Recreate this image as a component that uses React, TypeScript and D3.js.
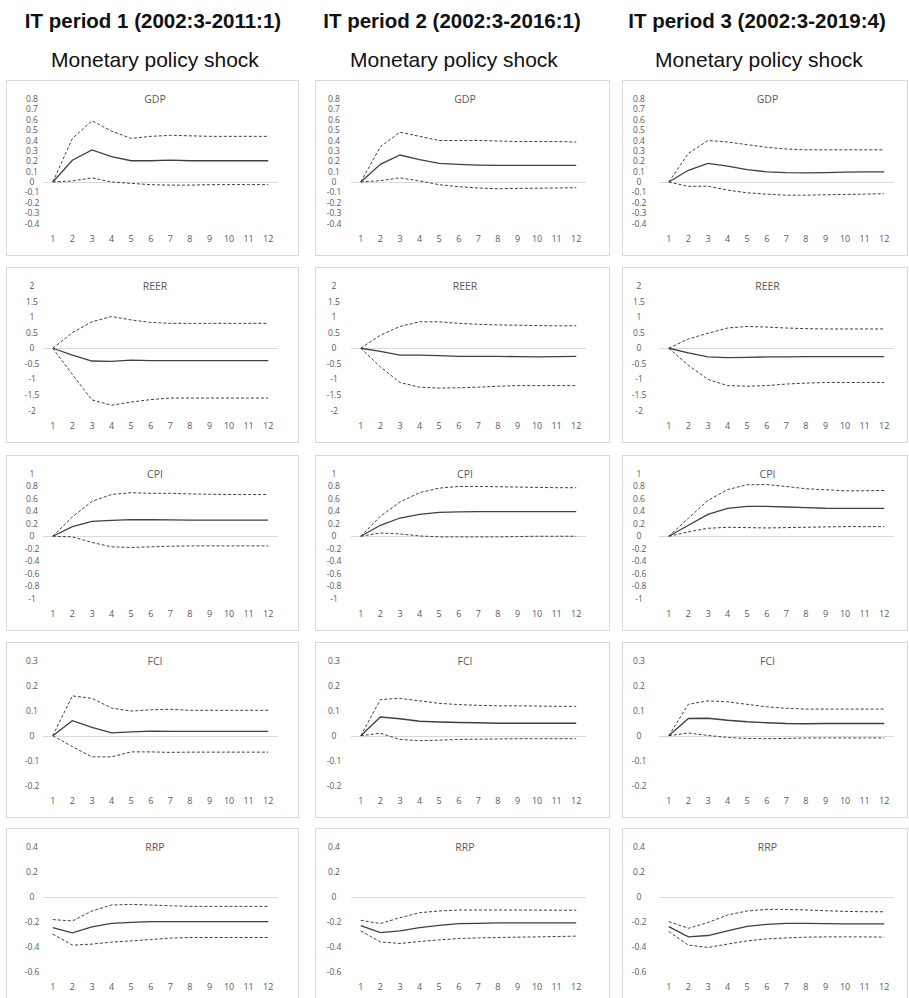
import React from "react";
import * as d3 from "d3";

// Column headers
const periodTitles = [
  "IT period 1 (2002:3-2011:1)",
  "IT period 2 (2002:3-2016:1)",
  "IT period 3 (2002:3-2019:4)",
];
const shockTitle = "Monetary policy shock";

// Horizon (quarters) shown on every x axis
const horizons = [1, 2, 3, 4, 5, 6, 7, 8, 9, 10, 11, 12];

// Vertical axis tick values for each response variable
const gdpTicks = [0.8, 0.7, 0.6, 0.5, 0.4, 0.3, 0.2, 0.1, 0, -0.1, -0.2, -0.3, -0.4];
const reerTicks = [2, 1.5, 1, 0.5, 0, -0.5, -1, -1.5, -2];
const cpiTicks = [1, 0.8, 0.6, 0.4, 0.2, 0, -0.2, -0.4, -0.6, -0.8, -1];
const fciTicks = [0.3, 0.2, 0.1, 0, -0.1, -0.2];
const rrpTicks = [0.4, 0.2, 0, -0.2, -0.4, -0.6];

// Impulse responses, one row per IT period
const gdpResponse = [
  [0, 0.21, 0.31, 0.245, 0.205, 0.205, 0.21, 0.205, 0.205, 0.205, 0.205, 0.205],
  [0, 0.17, 0.26, 0.215, 0.18, 0.17, 0.163, 0.16, 0.16, 0.16, 0.16, 0.16],
  [0, 0.113, 0.18, 0.152, 0.12, 0.098, 0.09, 0.088, 0.09, 0.095, 0.097, 0.097],
];
const gdpUpper = [
  [0, 0.42, 0.59, 0.49, 0.42, 0.44, 0.45, 0.445, 0.44, 0.44, 0.44, 0.44],
  [0, 0.34, 0.48, 0.44, 0.4, 0.4, 0.4, 0.395, 0.39, 0.39, 0.39, 0.385],
  [0, 0.276, 0.4, 0.386, 0.36, 0.334, 0.318, 0.31, 0.31, 0.31, 0.31, 0.31],
];
const gdpLower = [
  [0, 0.01, 0.04, 0, -0.013, -0.026, -0.03, -0.03, -0.026, -0.025, -0.025, -0.025],
  [0, 0.013, 0.04, 0.01, -0.026, -0.045, -0.058, -0.065, -0.062, -0.06, -0.058, -0.055],
  [0, -0.042, -0.04, -0.078, -0.104, -0.117, -0.127, -0.127, -0.123, -0.12, -0.117, -0.113],
];

const reerResponse = [
  [0, -0.22, -0.41, -0.42, -0.38, -0.4, -0.4, -0.4, -0.4, -0.4, -0.4, -0.4],
  [0, -0.1, -0.22, -0.22, -0.24, -0.26, -0.26, -0.26, -0.27, -0.28, -0.27, -0.26],
  [0, -0.15, -0.28, -0.3, -0.29, -0.28, -0.28, -0.27, -0.27, -0.27, -0.27, -0.27],
];
const reerUpper = [
  [0, 0.5, 0.85, 1.02, 0.91, 0.83, 0.8, 0.8, 0.8, 0.8, 0.8, 0.8],
  [0, 0.42, 0.7, 0.85, 0.85, 0.8, 0.77, 0.75, 0.74, 0.73, 0.72, 0.72],
  [0, 0.3, 0.48, 0.65, 0.7, 0.68, 0.65, 0.63, 0.62, 0.62, 0.62, 0.62],
];
const reerLower = [
  [0, -0.84, -1.66, -1.83, -1.73, -1.65, -1.6, -1.6, -1.6, -1.6, -1.6, -1.6],
  [0, -0.6, -1.1, -1.25, -1.28, -1.27, -1.25, -1.22, -1.2, -1.2, -1.2, -1.2],
  [0, -0.55, -1.0, -1.2, -1.22, -1.2, -1.15, -1.12, -1.1, -1.1, -1.1, -1.1],
];

const cpiResponse = [
  [0, 0.155, 0.24, 0.256, 0.267, 0.265, 0.262, 0.26, 0.26, 0.26, 0.26, 0.26],
  [0, 0.176, 0.293, 0.35, 0.384, 0.392, 0.395, 0.395, 0.395, 0.395, 0.395, 0.395],
  [0, 0.176, 0.352, 0.448, 0.48, 0.48, 0.47, 0.46, 0.45, 0.448, 0.448, 0.448],
];
const cpiUpper = [
  [0, 0.31, 0.56, 0.67, 0.7, 0.69, 0.69, 0.68, 0.675, 0.67, 0.67, 0.67],
  [0, 0.32, 0.55, 0.7, 0.773, 0.8, 0.8, 0.795, 0.79, 0.785, 0.78, 0.78],
  [0, 0.29, 0.576, 0.75, 0.827, 0.83, 0.8, 0.763, 0.747, 0.73, 0.73, 0.736],
];
const cpiLower = [
  [0, -0.01, -0.1, -0.17, -0.18, -0.17, -0.16, -0.155, -0.155, -0.155, -0.155, -0.155],
  [0, 0.053, 0.037, 0.005, -0.01, -0.01, -0.01, -0.01, -0.005, 0, 0, 0],
  [0, 0.07, 0.128, 0.144, 0.139, 0.133, 0.139, 0.144, 0.15, 0.155, 0.155, 0.155],
];

const fciResponse = [
  [0, 0.06, 0.033, 0.011, 0.015, 0.018, 0.017, 0.017, 0.017, 0.017, 0.017, 0.017],
  [0, 0.075, 0.068, 0.058, 0.055, 0.053, 0.052, 0.05, 0.05, 0.05, 0.05, 0.05],
  [0, 0.069, 0.07, 0.062, 0.056, 0.052, 0.049, 0.048, 0.049, 0.049, 0.049, 0.049],
];
const fciUpper = [
  [0, 0.16, 0.15, 0.111, 0.099, 0.104, 0.106, 0.102, 0.102, 0.102, 0.102, 0.102],
  [0, 0.145, 0.15, 0.14, 0.13, 0.125, 0.122, 0.12, 0.12, 0.119, 0.118, 0.118],
  [0, 0.126, 0.14, 0.136, 0.126, 0.116, 0.11, 0.107, 0.107, 0.107, 0.107, 0.107],
];
const fciLower = [
  [0, -0.044, -0.085, -0.085, -0.065, -0.065, -0.067, -0.066, -0.066, -0.066, -0.066, -0.066],
  [0, 0.01, -0.015, -0.02, -0.018, -0.015, -0.014, -0.013, -0.012, -0.012, -0.012, -0.012],
  [0, 0.011, 0.001, -0.007, -0.011, -0.012, -0.011, -0.009, -0.009, -0.009, -0.009, -0.009],
];

const rrpResponse = [
  [-0.247, -0.29, -0.242, -0.213, -0.205, -0.2, -0.2, -0.2, -0.2, -0.2, -0.2, -0.2],
  [-0.231, -0.287, -0.274, -0.247, -0.229, -0.215, -0.213, -0.21, -0.21, -0.21, -0.21, -0.21],
  [-0.24, -0.322, -0.311, -0.274, -0.237, -0.221, -0.213, -0.213, -0.215, -0.217, -0.218, -0.218],
];
const rrpUpper = [
  [-0.183, -0.194, -0.114, -0.066, -0.061, -0.066, -0.072, -0.077, -0.077, -0.077, -0.077, -0.077],
  [-0.189, -0.215, -0.168, -0.128, -0.114, -0.106, -0.106, -0.106, -0.106, -0.107, -0.108, -0.108],
  [-0.2, -0.253, -0.207, -0.146, -0.114, -0.101, -0.101, -0.106, -0.112, -0.117, -0.12, -0.12],
];
const rrpLower = [
  [-0.3, -0.388, -0.38, -0.364, -0.354, -0.343, -0.332, -0.327, -0.327, -0.327, -0.327, -0.327],
  [-0.274, -0.362, -0.375, -0.359, -0.346, -0.335, -0.33, -0.327, -0.324, -0.322, -0.319, -0.316],
  [-0.279, -0.388, -0.407, -0.38, -0.354, -0.338, -0.33, -0.324, -0.322, -0.322, -0.322, -0.324],
];

const panelRows = [
  { name: "GDP", ticks: gdpTicks, response: gdpResponse, upper: gdpUpper, lower: gdpLower },
  { name: "REER", ticks: reerTicks, response: reerResponse, upper: reerUpper, lower: reerLower },
  { name: "CPI", ticks: cpiTicks, response: cpiResponse, upper: cpiUpper, lower: cpiLower },
  { name: "FCI", ticks: fciTicks, response: fciResponse, upper: fciUpper, lower: fciLower },
  { name: "RRP", ticks: rrpTicks, response: rrpResponse, upper: rrpUpper, lower: rrpLower },
];

// Layout
const WIDTH = 909;
const HEIGHT = 998;
const colBoxX = [6, 315, 622];
const colBoxW = [292, 294, 285];
const headerX = [153, 452, 757];
const rowBoxY = [80, 267, 455, 642, 828];
const BOX_H = 175;
const plotOffsetX = [37, 36, 37];
const PLOT_W = 235;
const labelOffsetX = [26, 19, 17];
const PLOT_TOP = 19;
const PLOT_BOTTOM = 143.5;
const X_LABEL_Y = 162;

const tickFont = "'Open Sans', 'Liberation Sans', sans-serif";
const headFont = "'Liberation Sans', Arial, Helvetica, sans-serif";

function Panel({ row, col }: { row: number; col: number }) {
  const spec = panelRows[row];
  const bx = colBoxX[col];
  const by = rowBoxY[row];
  const bw = colBoxW[col];
  const px = bx + plotOffsetX[col];

  const x = d3
    .scaleBand<number>()
    .domain(horizons)
    .range([px, px + PLOT_W]);
  const cx = (h: number) => (x(h) as number) + x.bandwidth() / 2;
  const y = d3
    .scaleLinear()
    .domain([d3.min(spec.ticks) as number, d3.max(spec.ticks) as number])
    .range([by + PLOT_BOTTOM, by + PLOT_TOP]);

  const line = d3
    .line<number>()
    .x((_, i) => cx(horizons[i]))
    .y((v) => y(v));

  return (
    <g>
      <rect x={bx + 0.5} y={by + 0.5} width={bw} height={BOX_H} fill="#fff" stroke="#d9d9d9" strokeWidth={1} />
      <text
        x={bx + bw / 2 + 3}
        y={by + PLOT_TOP + 4}
        textAnchor="middle"
        fontFamily={tickFont}
        fontSize={10.5}
        fill="#595959"
      >
        {spec.name}
      </text>
      {spec.ticks.map((t) => (
        <text
          key={t}
          x={bx + labelOffsetX[col]}
          y={y(t) + 3}
          textAnchor="middle"
          fontFamily={tickFont}
          fontSize={8.5}
          fill="#595959"
        >
          {String(t)}
        </text>
      ))}
      <line x1={px} x2={px + PLOT_W} y1={Math.round(y(0)) + 0.5} y2={Math.round(y(0)) + 0.5} stroke="#d9d9d9" strokeWidth={1} />
      {horizons.map((h) => (
        <text
          key={h}
          x={cx(h)}
          y={by + X_LABEL_Y}
          textAnchor="middle"
          fontFamily={tickFont}
          fontSize={9}
          fill="#595959"
        >
          {h}
        </text>
      ))}
      <path d={line(spec.upper[col]) || ""} fill="none" stroke="#404040" strokeWidth={1} strokeDasharray="3,2" />
      <path d={line(spec.lower[col]) || ""} fill="none" stroke="#404040" strokeWidth={1} strokeDasharray="3,2" />
      <path d={line(spec.response[col]) || ""} fill="none" stroke="#404040" strokeWidth={1.3} />
    </g>
  );
}

export default function App() {
  return (
    <svg
      width={WIDTH}
      height={HEIGHT}
      viewBox={`0 0 ${WIDTH} ${HEIGHT}`}
      style={{ position: "absolute", left: 0, top: 0, display: "block", background: "#fff" }}
    >
      <rect width={WIDTH} height={HEIGHT} fill="#fff" />
      {periodTitles.map((t, c) => (
        <g key={t}>
          <text x={headerX[c]} y={28} textAnchor="middle" fontFamily={headFont} fontWeight="bold" fontSize={20.5} fill="#111">
            {t}
          </text>
          <text x={headerX[c] + 2} y={67} textAnchor="middle" fontFamily={headFont} fontSize={21} fill="#111">
            {shockTitle}
          </text>
        </g>
      ))}
      {panelRows.map((_, r) =>
        [0, 1, 2].map((c) => <Panel key={`${r}-${c}`} row={r} col={c} />)
      )}
    </svg>
  );
}
